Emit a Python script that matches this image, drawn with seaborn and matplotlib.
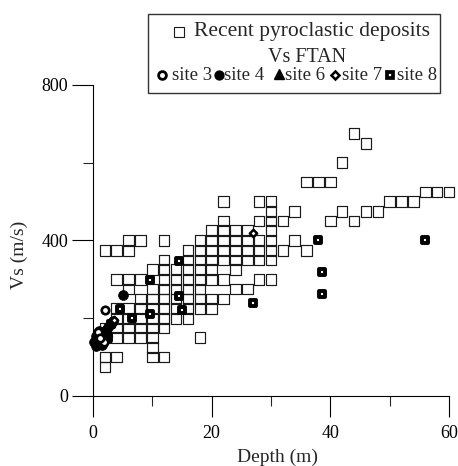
import numpy as np
import pandas as pd
import matplotlib
matplotlib.use("Agg")
import matplotlib.pyplot as plt
import seaborn as sns
from matplotlib.lines import Line2D
from matplotlib.patches import Rectangle

# ---------------- data ----------------
# Recent pyroclastic deposits: for each Vs level (m/s), the depths (m) of squares
pyro_vs_levels = [675, 650, 600, 550, 525, 500, 475, 450, 425, 400, 375, 350,
                  325, 300, 275, 250, 225, 200, 175, 150, 125, 100, 75]
pyro_depth_rows = [
    [44], [46], [42], [36, 38, 40], [56, 58, 60],
    [22, 28, 30, 50, 52, 54], [30, 34, 42, 46, 48],
    [22, 28, 30, 32, 40, 44], [20, 22, 24, 26, 30],
    [6, 8, 12, 18, 20, 22, 24, 26, 28, 30, 34],
    [2, 4, 6, 16, 18, 20, 22, 24, 26, 28, 30, 32, 36],
    [12, 16, 18, 20, 22, 24, 26, 28, 30],
    [10, 12, 14, 16, 18, 20, 24],
    [4, 6, 8, 12, 14, 16, 18, 20, 22, 28, 30],
    [6, 10, 12, 14, 16, 18, 24, 26],
    [8, 10, 12, 14, 16, 18, 20, 22],
    [4, 6, 8, 10, 12, 14, 16, 18, 20],
    [4, 6, 8, 10, 12, 14, 16],
    [2, 4, 6, 8, 10, 12],
    [2, 4, 6, 8, 10, 18],
    [10],
    [2, 4, 10, 12],
    [2],
]

# Vs FTAN sites
site3_depth = [2.0, 0.8, 1.8, 1.2]
site3_vs = [220, 165, 140, 150]
site4_depth = [5.0, 0.2, 0.5, 0.8, 1.1, 1.4, 1.8, 2.2, 2.6, 3.0, 3.4, 1.0, 0.5, 1.6, 2.4]
site4_vs = [260, 140, 128, 150, 135, 160, 145, 170, 178, 185, 192, 168, 155, 130, 158]
site6_depth = [1.5, 2.5, 0.8]
site6_vs = [155, 165, 145]
site7_depth = [27.0, 3.5]
site7_vs = [420, 195]
site8_depth = [4.5, 6.5, 3.0, 9.6, 15.0, 14.5, 14.5, 9.6, 27.0, 38.0, 38.6, 38.6, 56.0, 1.5, 2.5]
site8_vs = [223, 200, 185, 210, 220, 258, 348, 298, 240, 400, 320, 262, 400, 165, 150]

x_ticks = [0, 20, 40, 60]
y_ticks = [0, 400, 800]

# ---------------- figure ----------------
sns.set_style("ticks")
plt.rcParams["font.family"] = ["Liberation Serif", "DejaVu Serif"]

W, H = 458, 466
fig = plt.figure(figsize=(W / 100, H / 100), dpi=100)
ax = fig.add_axes([93 / W, 1 - 396 / H, 356 / W, 311 / H])

pyro = pd.DataFrame(
    [(d, v) for v, row in zip(pyro_vs_levels, pyro_depth_rows) for d in row],
    columns=["depth", "vs"])

sns.scatterplot(data=pyro, x="depth", y="vs", ax=ax, marker="s", s=58,
                facecolor="none", edgecolor="#1a1a1a", linewidth=0.85,
                clip_on=False, zorder=3)

sns.scatterplot(x=site8_depth, y=site8_vs, ax=ax, marker="s", s=24,
                facecolor="white", edgecolor="black", linewidth=2.8,
                clip_on=False, zorder=4)
sns.scatterplot(x=site4_depth, y=site4_vs, ax=ax, marker="o", s=50,
                color="black", edgecolor="black", linewidth=0.5,
                clip_on=False, zorder=5)
sns.scatterplot(x=site6_depth, y=site6_vs, ax=ax, marker="^", s=42,
                color="black", edgecolor="black", linewidth=0.5,
                clip_on=False, zorder=5)
sns.scatterplot(x=site3_depth, y=site3_vs, ax=ax, marker="o", s=29,
                facecolor="white", edgecolor="black", linewidth=1.9,
                clip_on=False, zorder=6)
sns.scatterplot(x=site7_depth, y=site7_vs, ax=ax, marker="D", s=14,
                facecolor="white", edgecolor="black", linewidth=1.8,
                clip_on=False, zorder=6)

ax.set_xlim(0, 60)
ax.set_ylim(0, 800)
ax.set_xticks(x_ticks)
ax.set_yticks(y_ticks)
ax.set_xticks([10, 30, 50], minor=True)
ax.set_yticks([200, 600], minor=True)
ax.tick_params(which="major", direction="out", length=15, width=0.8,
               labelsize=13, colors="black")
ax.tick_params(axis="x", which="major", pad=6)
ax.tick_params(axis="y", which="major", pad=3)
ax.tick_params(which="minor", direction="out", length=7.5, width=0.8)
for s in ["top", "right"]:
    ax.spines[s].set_visible(False)
for s in ["left", "bottom"]:
    ax.spines[s].set_linewidth(0.8)
    ax.spines[s].set_color("black")

ax.set_xlabel("Depth (m)", fontsize=14)
ax.set_ylabel("Vs (m/s)", fontsize=14)
ax.xaxis.set_label_coords(0.517, -0.168)
ax.yaxis.set_label_coords(-0.183, 0.453)

# ---------------- legend box (figure pixel coords) ----------------
def fx(px):
    return px / W


def fy(py):
    return 1 - py / H


fig.add_artist(Rectangle((fx(148), fy(93)), fx(440) - fx(148), fy(14) - fy(93),
                         transform=fig.transFigure, fill=False,
                         edgecolor="#333333", linewidth=1.0))

def leg_marker(px, py, **kw):
    fig.add_artist(Line2D([fx(px)], [fy(py)], transform=fig.transFigure,
                          linestyle="none", **kw))

leg_marker(179, 32, marker="s", markersize=7.2, markerfacecolor="none",
           markeredgecolor="#1a1a1a", markeredgewidth=0.8)
fig.text(fx(194), fy(36), "Recent pyroclastic deposits", fontsize=15.5,
         ha="left", va="baseline")
fig.text(fx(307), fy(62), "Vs FTAN", fontsize=14.5, ha="center", va="baseline")

row_y = 75
leg_marker(162, row_y, marker="o", markersize=5.6, markerfacecolor="white",
           markeredgecolor="black", markeredgewidth=2.0)
fig.text(fx(172), fy(row_y + 5), "site 3", fontsize=13.5, ha="left", va="baseline")
leg_marker(219, row_y, marker="o", markersize=6.4, markerfacecolor="black",
           markeredgecolor="black")
fig.text(fx(224), fy(row_y + 5), "site 4", fontsize=13.5, ha="left", va="baseline")
leg_marker(279, row_y - 1, marker="^", markersize=7, markerfacecolor="black",
           markeredgecolor="black")
fig.text(fx(285), fy(row_y + 5), "site 6", fontsize=13.5, ha="left", va="baseline")
leg_marker(335, row_y, marker="D", markersize=3.6, markerfacecolor="white",
           markeredgecolor="black", markeredgewidth=1.8)
fig.text(fx(342), fy(row_y + 5), "site 7", fontsize=13.5, ha="left", va="baseline")
leg_marker(390, row_y, marker="s", markersize=4.9, markerfacecolor="white",
           markeredgecolor="black", markeredgewidth=2.7)
fig.text(fx(397), fy(row_y + 5), "site 8", fontsize=13.5, ha="left", va="baseline")

fig.savefig("out.png", dpi=100)
